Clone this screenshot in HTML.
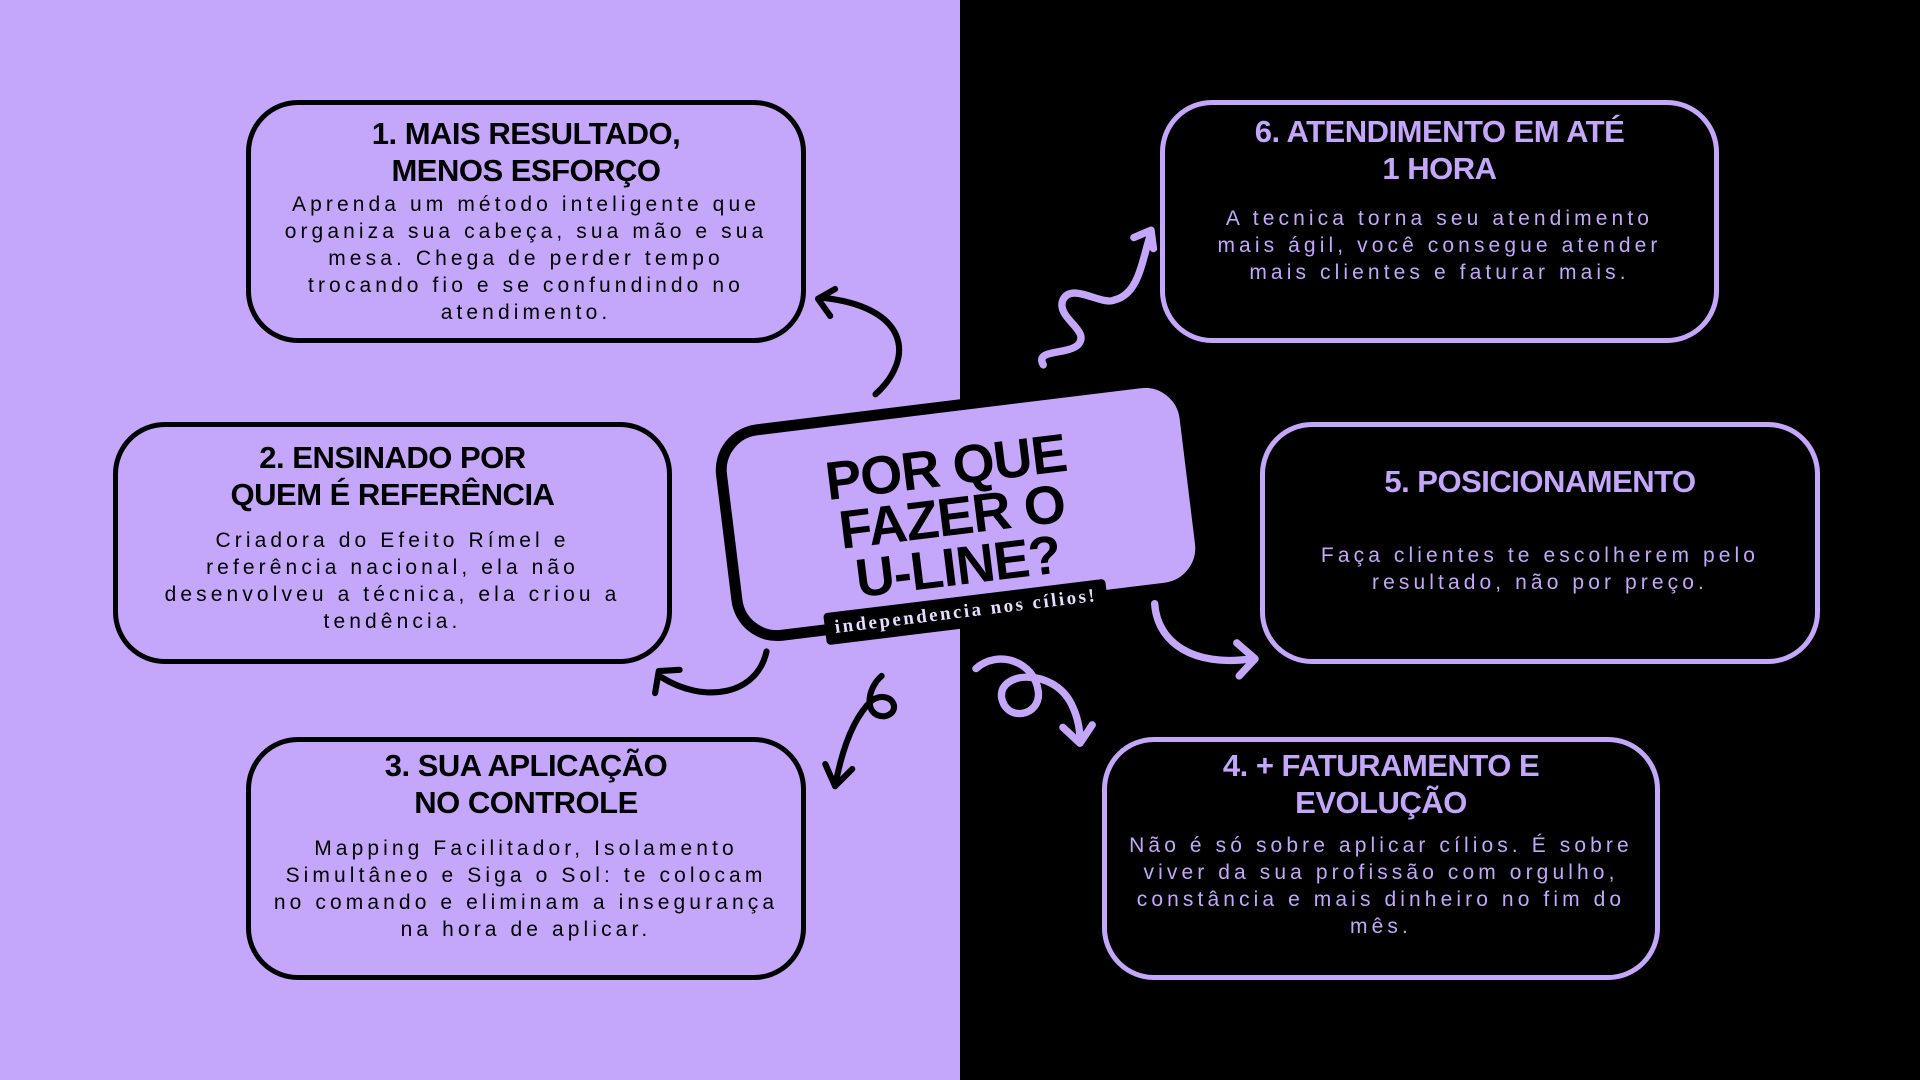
<!DOCTYPE html>
<html><head><meta charset="utf-8"><style>
*{margin:0;padding:0;box-sizing:border-box}
body{width:1920px;height:1080px;overflow:hidden;position:relative;background:#000;font-family:"Liberation Sans",sans-serif}
.left{position:absolute;left:0;top:0;width:960px;height:1080px;background:#c4a6fb}
.box{position:absolute;border-radius:52px;border:5px solid #000;text-align:center}
.lb{background:#c4a6fb;color:#000;border-color:#000}
.db{background:#000;color:#c4a6fb;border-color:#c4a6fb}
.t{font-weight:bold;font-size:31px;line-height:37px;letter-spacing:-0.5px}
.b{font-size:21px;line-height:27px;letter-spacing:4.1px;font-weight:normal}
.center{position:absolute;left:722px;top:400px;width:478px;height:218px;border:11px solid #000;border-radius:46px;background:#c4a6fb;transform:rotate(-7deg)}
.ct{position:absolute;left:0;right:0;top:30px;text-align:center;font-weight:bold;font-size:54px;line-height:50px;letter-spacing:-1px;color:#000;padding-right:20px}
.tag{position:absolute;left:824px;top:596px;width:284px;height:32px;background:#000;border-radius:4px;transform:rotate(-7deg);color:#e8dcff;font-family:"Liberation Serif",serif;font-weight:bold;font-size:19px;letter-spacing:2.5px;text-align:center;line-height:32px}
svg{position:absolute;left:0;top:0}
</style></head><body>
<div class="left"></div>

<div class="box lb" style="left:246px;top:100px;width:560px;height:243px;padding-top:10px">
<div class="t">1. MAIS RESULTADO,<br>MENOS ESFORÇO</div>
<div class="b" style="margin-top:2px">Aprenda um método inteligente que<br>organiza sua cabeça, sua mão e sua<br>mesa. Chega de perder tempo<br>trocando fio e se confundindo no<br>atendimento.</div>
</div>

<div class="box lb" style="left:113px;top:422px;width:559px;height:242px;padding-top:12px">
<div class="t">2. ENSINADO POR<br>QUEM É REFERÊNCIA</div>
<div class="b" style="margin-top:14px">Criadora do Efeito Rímel e<br>referência nacional, ela não<br>desenvolveu a técnica, ela criou a<br>tendência.</div>
</div>

<div class="box lb" style="left:246px;top:737px;width:560px;height:243px;padding-top:5px">
<div class="t">3. SUA APLICAÇÃO<br>NO CONTROLE</div>
<div class="b" style="margin-top:14px">Mapping Facilitador, Isolamento<br>Simultâneo e Siga o Sol: te colocam<br>no comando e eliminam a insegurança<br>na hora de aplicar.</div>
</div>

<div class="box db" style="left:1160px;top:100px;width:559px;height:243px;padding-top:8px">
<div class="t">6. ATENDIMENTO EM ATÉ<br>1 HORA</div>
<div class="b" style="margin-top:18px">A tecnica torna seu atendimento<br>mais ágil, você consegue atender<br>mais clientes e faturar mais.</div>
</div>

<div class="box db" style="left:1260px;top:422px;width:560px;height:242px;padding-top:36px">
<div class="t">5. POSICIONAMENTO</div>
<div class="b" style="margin-top:42px">Faça clientes te escolherem pelo<br>resultado, não por preço.</div>
</div>

<div class="box db" style="left:1102px;top:737px;width:558px;height:243px;padding-top:5px">
<div class="t">4. + FATURAMENTO E<br>EVOLUÇÃO</div>
<div class="b" style="margin-top:11px">Não é só sobre aplicar cílios. É sobre<br>viver da sua profissão com orgulho,<br>constância e mais dinheiro no fim do<br>mês.</div>
</div>

<div class="center"><div class="ct">POR QUE<br>FAZER O<br>U-LINE?</div></div>
<div class="tag">independencia nos cílios!</div>

<svg width="1920" height="1080" viewBox="0 0 1568 882" fill="none" stroke-linecap="round" stroke-linejoin="round">
<g stroke="#000" stroke-width="5">
<path d="M715,322 C748,292 742,250 670,243"/>
<path d="M682,236 L668,244 L678,258"/>
<path d="M626,532 C618,568 575,575 540,553"/>
<path d="M535,566 L538,548 L555,547"/>
<path d="M720,552 C708,562 705,585 722,585 C738,582 728,562 712,572 C698,585 688,610 682,642"/>
<path d="M674,624 L682,642 L696,628"/>
</g>
<g stroke="#c4a6fb" stroke-width="6">
<path d="M797,546 C815,530 845,540 848,565 C850,585 822,590 818,570 C815,548 860,545 875,575 C880,585 882,595 882,605"/>
<path d="M868,594 L882,607 L892,592"/>
<path d="M943,493 C945,525 975,545 1022,538"/>
<path d="M1010,525 L1025,538 L1012,552"/>
<path d="M852,298 C845,285 870,290 880,282 C892,270 862,260 868,245 C875,230 900,250 910,245 C930,240 932,215 940,190"/>
<path d="M926,194 L940,188 L942,203"/>
</g>
</svg>
</body></html>
